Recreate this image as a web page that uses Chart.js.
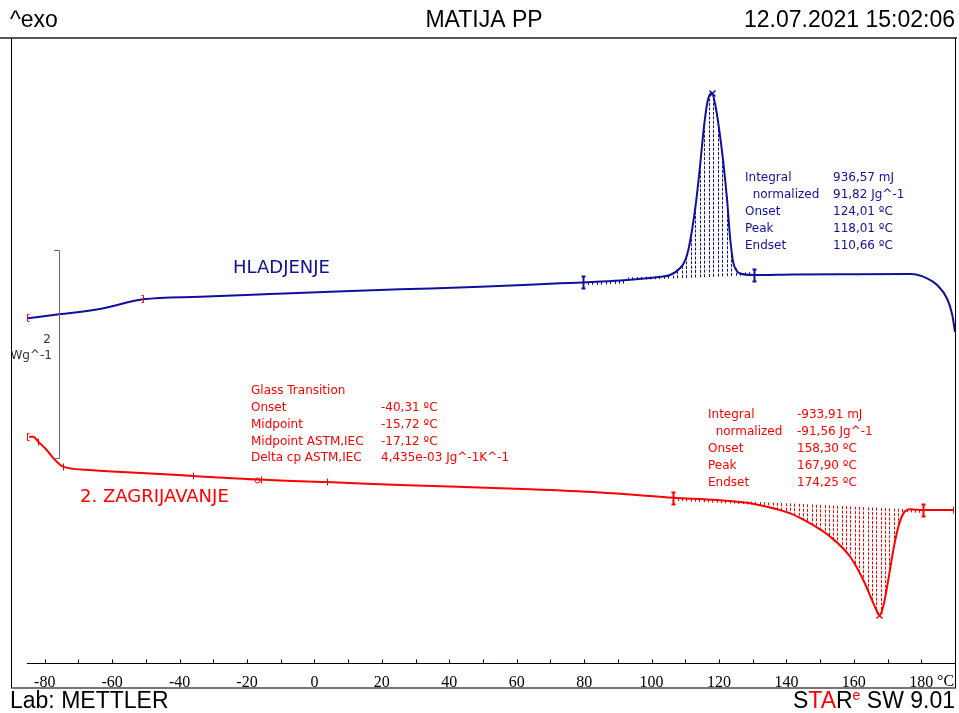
<!DOCTYPE html>
<html>
<head>
<meta charset="utf-8">
<title>MATIJA PP</title>
<script src="https://cdn.jsdelivr.net/npm/chart.js@4.4.1/dist/chart.umd.min.js"></script>
<style>
  html, body { margin: 0; padding: 0; background: #fff; }
  canvas { display: block; }
</style>
</head>
<body>
<canvas id="dscChart" width="959" height="713"></canvas>
<script>
// DSC curves: temperature (°C) vs heat flow (W/g, arbitrary offset as on the instrument plot)
const coolTemp = [-85.0, -75.8, -63.6, -50.8, -33.9, -13.2, 4.7, 25.4, 49.2, 72.9, 79.7, 90.7,
  102.6, 105.5, 108.5, 110.0, 110.9, 112.1, 113.2, 114.4, 115.6, 116.7, 117.85, 118.8, 120.0,
  121.2, 122.4, 123.3, 124.2, 125.1, 126.2, 130.3, 142.1, 160.0, 176.8, 181.7, 184.7, 187.7, 189.2, 190.0];
const coolFlow = [3.314, 3.353, 3.404, 3.497, 3.522, 3.548, 3.570, 3.593, 3.618, 3.651, 3.660, 3.678,
  3.714, 3.731, 3.798, 3.875, 3.971, 4.183, 4.433, 4.788, 5.173, 5.413, 5.481, 5.385, 5.144,
  4.837, 4.452, 4.087, 3.856, 3.779, 3.745, 3.731, 3.737, 3.739, 3.740, 3.699, 3.635, 3.500, 3.346, 3.183];

const heatTemp = [-84.6, -83.4, -81.9, -79.4, -77.4, -74.5, -67.5, -58.6, -45.8, -35.9, -17.1, 3.6,
  25.4, 64.0, 84.7, 99.5, 106.5, 119.3, 129.2, 134.2, 141.1, 147.0, 153.0, 158.9, 162.8, 165.8,
  166.7, 167.6, 168.7, 170.2, 171.7, 173.2, 174.7, 176.7, 180.6, 189.5];
const heatFlow = [2.176, 2.176, 2.128, 2.048, 1.968, 1.888, 1.858, 1.839, 1.817, 1.798, 1.764, 1.740,
  1.712, 1.670, 1.639, 1.606, 1.589, 1.567, 1.536, 1.503, 1.439, 1.343, 1.214, 1.022, 0.798, 0.574,
  0.510, 0.462, 0.541, 0.798, 1.087, 1.311, 1.439, 1.478, 1.471, 1.471];

const tempTicks = [-80, -60, -40, -20, 0, 20, 40, 60, 80, 100, 120, 140, 160, 180];
const minorTicks = [-80, -70, -60, -50, -40, -30, -20, -10, 0, 10, 20, 30, 40, 50, 60, 70, 80, 90,
  100, 110, 120, 130, 140, 150, 160, 170, 180, 190];

// evaluation marks on the curves (temperature, kind)
const coolMarks = [[-85.3, 'limitL'], [-50.9, 'limitR'], [79.7, 'bar'], [130.3, 'bar'], [117.85, 'cross']];
const heatMarks = [[-85.3, 'limitL'], [-81.9, 'tick'], [-74.5, 'tick'], [-35.9, 'tick'], [-17.1, 'ring'],
  [-15.7, 'tick'], [3.6, 'tick'], [106.5, 'bar'], [167.6, 'cross'], [180.6, 'bar'], [189.3, 'tick']];
const coolPeakRange = [79.7, 130.3];
const heatPeakRange = [106.5, 180.6];

const coolResult = [['Integral', '936,57 mJ'], ['  normalized', '91,82 Jg^-1'], ['Onset', '124,01 ºC'],
  ['Peak', '118,01 ºC'], ['Endset', '110,66 ºC']];
const heatResult = [['Integral', '-933,91 mJ'], ['  normalized', '-91,56 Jg^-1'], ['Onset', '158,30 ºC'],
  ['Peak', '167,90 ºC'], ['Endset', '174,25 ºC']];
const glassResult = [['Glass Transition', ''], ['Onset', '-40,31 ºC'], ['Midpoint', '-15,72 ºC'],
  ['Midpoint ASTM,IEC', '-17,12 ºC'], ['Delta cp ASTM,IEC', '4,435e-03 Jg^-1K^-1']];

const BLUE = '#10109a';
const RED = '#ff0000';
const smallFont = "12px 'DejaVu Sans', sans-serif";
const headFont = "23px 'Liberation Sans', Arial, sans-serif";

function valueAt(temps, vals, t) {
  if (t <= temps[0]) return vals[0];
  for (let i = 1; i < temps.length; i++) {
    if (t <= temps[i]) {
      const f = (t - temps[i - 1]) / (temps[i] - temps[i - 1]);
      return vals[i - 1] + f * (vals[i] - vals[i - 1]);
    }
  }
  return vals[vals.length - 1];
}

function drawHatch(ctx, xs, ys, temps, vals, range, step, color) {
  const [from, to] = range;
  const b0 = valueAt(temps, vals, from), b1 = valueAt(temps, vals, to);
  ctx.save();
  ctx.strokeStyle = color;
  ctx.lineWidth = 1;
  ctx.setLineDash([3, 1.5]);
  for (let t = from + step; t < to; t += step) {
    const base = b0 + (b1 - b0) * (t - from) / (to - from);
    const x = Math.round(xs.getPixelForValue(t)) + 0.5;
    const yb = ys.getPixelForValue(base);
    let yc = ys.getPixelForValue(valueAt(temps, vals, t));
    // keep a short stroke visible where curve and baseline almost meet
    if (Math.abs(yc - yb) < 3) yc = yb + (yc < yb && Math.abs(yc - yb) > 0.5 ? -3 : 3);
    ctx.beginPath();
    ctx.moveTo(x, yb);
    ctx.lineTo(x, yc);
    ctx.stroke();
  }
  ctx.restore();
}

function drawMarks(ctx, xs, ys, temps, vals, marks, color) {
  ctx.save();
  ctx.lineWidth = 1;
  marks.forEach(([t, kind]) => {
    const x = Math.round(xs.getPixelForValue(t)) + 0.5;
    const y = Math.round(ys.getPixelForValue(valueAt(temps, vals, t))) + 0.5;
    ctx.strokeStyle = (kind === 'limitL' || kind === 'limitR') ? RED : color;
    ctx.beginPath();
    if (kind === 'limitL') {
      ctx.moveTo(x + 2, y - 4); ctx.lineTo(x, y - 4); ctx.lineTo(x, y + 3); ctx.lineTo(x + 2, y + 3);
    } else if (kind === 'limitR') {
      ctx.moveTo(x - 2, y - 4); ctx.lineTo(x, y - 4); ctx.lineTo(x, y + 3); ctx.lineTo(x - 2, y + 3);
    } else if (kind === 'tick') {
      ctx.moveTo(x, y - 4); ctx.lineTo(x, y + 3);
    } else if (kind === 'bar') {
      ctx.lineWidth = 2;
      ctx.moveTo(x, y - 6); ctx.lineTo(x, y + 6);
      ctx.moveTo(x - 2, y - 6); ctx.lineTo(x + 2, y - 6);
      ctx.moveTo(x - 2, y + 6); ctx.lineTo(x + 2, y + 6);
    } else if (kind === 'cross') {
      ctx.lineWidth = 1.5;
      ctx.moveTo(x - 3, y - 3); ctx.lineTo(x + 3, y + 3);
      ctx.moveTo(x + 3, y - 3); ctx.lineTo(x - 3, y + 3);
    } else if (kind === 'ring') {
      ctx.arc(x, y, 2.5, 0, Math.PI * 2);
    }
    ctx.stroke();
    ctx.lineWidth = 1;
  });
  ctx.restore();
}

function drawBlock(ctx, rows, x1, x2, y0, dy, color) {
  ctx.save();
  ctx.font = smallFont;
  ctx.fillStyle = color;
  ctx.textBaseline = 'middle';
  ctx.textAlign = 'left';
  rows.forEach(([label, value], i) => {
    ctx.fillText(label, x1, y0 + i * dy);
    if (value) ctx.fillText(value, x2, y0 + i * dy);
  });
  ctx.restore();
}

const dscDecor = {
  id: 'dscDecor',
  beforeDatasetsDraw(chart) {
    const { ctx, scales: { x, y } } = chart;
    drawHatch(ctx, x, y, coolTemp, coolFlow, coolPeakRange, 1.33, BLUE);
    drawHatch(ctx, x, y, heatTemp, heatFlow, heatPeakRange, 1.28, RED);
  },
  afterDatasetsDraw(chart) {
    const { ctx, scales: { x, y } } = chart;
    drawMarks(ctx, x, y, coolTemp, coolFlow, coolMarks, BLUE);
    drawMarks(ctx, x, y, heatTemp, heatFlow, heatMarks, RED);

    ctx.save();
    // frame
    ctx.strokeStyle = '#555';
    ctx.lineWidth = 2;
    ctx.beginPath(); ctx.moveTo(0, 38); ctx.lineTo(957, 38); ctx.stroke();
    ctx.strokeStyle = '#777';
    ctx.beginPath(); ctx.moveTo(11, 688); ctx.lineTo(956, 688); ctx.stroke();
    ctx.strokeStyle = '#000';
    ctx.lineWidth = 1;
    ctx.beginPath();
    ctx.moveTo(11.5, 38); ctx.lineTo(11.5, 688);
    ctx.moveTo(955.5, 38); ctx.lineTo(955.5, 688);
    ctx.stroke();

    // temperature axis
    const axisY = 663.5;
    ctx.beginPath();
    ctx.moveTo(x.getPixelForValue(-85.3), axisY); ctx.lineTo(955, axisY);
    minorTicks.forEach(t => {
      const px = Math.round(x.getPixelForValue(t)) + 0.5;
      ctx.moveTo(px, axisY); ctx.lineTo(px, axisY - 4);
    });
    ctx.stroke();
    ctx.font = "16px 'Liberation Serif', serif";
    ctx.fillStyle = '#000';
    ctx.textBaseline = 'top';
    ctx.textAlign = 'left';
    ctx.fillText('°C', 937, 674);

    // scale bar 2 W/g
    ctx.strokeStyle = '#666';
    ctx.beginPath();
    ctx.moveTo(54, 250.5); ctx.lineTo(59.5, 250.5); ctx.lineTo(59.5, 458.5); ctx.lineTo(54, 458.5);
    ctx.stroke();
    ctx.font = smallFont;
    ctx.fillStyle = '#333';
    ctx.textBaseline = 'middle';
    ctx.textAlign = 'center';
    ctx.fillText('2', 47, 340);
    ctx.textAlign = 'right';
    ctx.fillText('Wg^-1', 52, 356);

    // curve names
    ctx.textAlign = 'left';
    ctx.font = "18px 'DejaVu Sans', sans-serif";
    ctx.fillStyle = BLUE;
    ctx.fillText('HLADJENJE', 233, 268);
    ctx.fillStyle = RED;
    ctx.fillText('2. ZAGRIJAVANJE', 80, 497);
    ctx.restore();

    drawBlock(ctx, coolResult, 745, 833, 178, 17, BLUE);
    drawBlock(ctx, heatResult, 708, 797, 415, 17, RED);
    drawBlock(ctx, glassResult, 251, 381, 391, 16.8, RED);

    // header and footer
    ctx.save();
    ctx.font = headFont;
    ctx.fillStyle = '#000';
    ctx.textBaseline = 'middle';
    ctx.textAlign = 'left';
    ctx.fillText('^exo', 10, 21);
    ctx.fillText('Lab: METTLER', 10, 702);
    ctx.textAlign = 'center';
    ctx.fillText('MATIJA PP', 484, 21);
    ctx.textAlign = 'right';
    ctx.fillText('12.07.2021 15:02:06', 955, 21);

    // STARe SW 9.01, right aligned
    const parts = [['S', '#000', headFont, 0], ['TA', RED, headFont, 0], ['R', '#000', headFont, 0],
      ['e', RED, "14px 'Liberation Sans', Arial, sans-serif", -6], [' SW 9.01', '#000', headFont, 0]];
    let total = 0;
    parts.forEach(p => { ctx.font = p[2]; total += ctx.measureText(p[0]).width; });
    let px = 955 - total;
    ctx.textAlign = 'left';
    parts.forEach(([txt, col, font, dy]) => {
      ctx.font = font;
      ctx.fillStyle = col;
      ctx.fillText(txt, px, 702 + dy);
      px += ctx.measureText(txt).width;
    });
    ctx.restore();
  }
};

new Chart(document.getElementById('dscChart'), {
  type: 'line',
  data: {
    datasets: [{
      label: 'HLADJENJE',
      data: coolTemp.map((t, i) => ({ x: t, y: coolFlow[i] })),
      borderColor: BLUE,
      borderWidth: 2,
      cubicInterpolationMode: 'monotone',
      pointRadius: 0,
      fill: false
    }, {
      label: '2. ZAGRIJAVANJE',
      data: heatTemp.map((t, i) => ({ x: t, y: heatFlow[i] })),
      borderColor: RED,
      borderWidth: 2,
      cubicInterpolationMode: 'monotone',
      pointRadius: 0,
      fill: false
    }]
  },
  options: {
    responsive: false,
    animation: false,
    layout: { padding: { left: 11, top: 38, right: 4, bottom: 25 } },
    plugins: {
      legend: { display: false },
      tooltip: { enabled: false }
    },
    scales: {
      x: {
        type: 'linear',
        min: -90,
        max: 190,
        afterBuildTicks: s => { s.ticks = tempTicks.map(v => ({ value: v })); },
        afterFit: s => { s.height = 25; },
        grid: { display: false, drawTicks: false },
        border: { display: false },
        ticks: {
          padding: 10,
          maxRotation: 0,
          autoSkip: false,
          color: '#000',
          font: { family: "'Liberation Serif', serif", size: 16 },
          callback: v => String(v)
        }
      },
      y: { display: false, min: 0, max: 6.01 }
    }
  },
  plugins: [dscDecor]
});
</script>
</body>
</html>
